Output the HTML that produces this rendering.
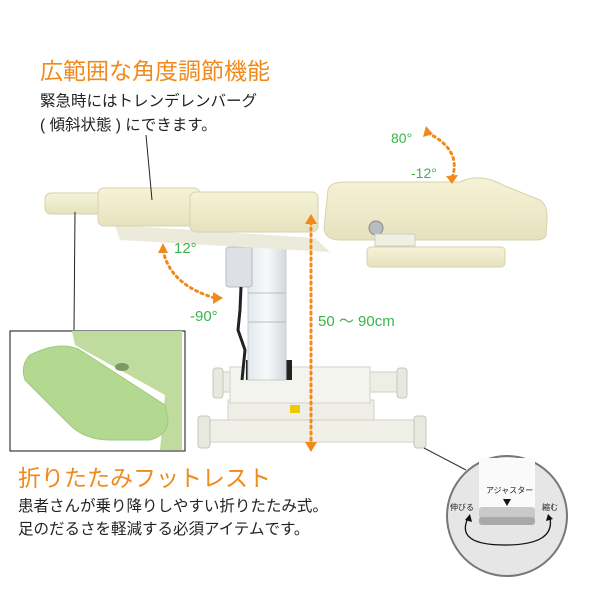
<!DOCTYPE html>
<html><head><meta charset="utf-8"><style>
body{margin:0;width:600px;height:600px;background:#fff;overflow:hidden;position:relative;font-family:"Liberation Sans","Noto Sans CJK JP",sans-serif}
.t{position:absolute;white-space:nowrap}
</style></head><body>
<svg width="600" height="600" style="position:absolute;left:0;top:0" xmlns="http://www.w3.org/2000/svg">
<defs>
<linearGradient id="cr" x1="0" y1="0" x2="0" y2="1"><stop offset="0" stop-color="#f6f3d6"/><stop offset="1" stop-color="#e6e2bf"/></linearGradient>
<linearGradient id="col" x1="0" y1="0" x2="1" y2="0"><stop offset="0" stop-color="#e4e8ea"/><stop offset="0.5" stop-color="#f8f9fa"/><stop offset="1" stop-color="#d5d9dc"/></linearGradient>
</defs>
<!-- base -->
<rect x="215" y="372" width="190" height="20" fill="#eeeee6" stroke="#cfcfc4"/>
<rect x="213" y="368" width="10" height="30" rx="3" fill="#e8e8e0" stroke="#c6c6bc"/>
<rect x="397" y="368" width="10" height="30" rx="3" fill="#e8e8e0" stroke="#c6c6bc"/>
<rect x="228" y="400" width="146" height="22" fill="#eeeee6" stroke="#d3d3c9"/>
<rect x="230" y="367" width="140" height="36" fill="#f4f4ee" stroke="#d3d3c9"/>
<rect x="200" y="420" width="224" height="22" fill="#f0f0e9" stroke="#cfcfc4"/>
<rect x="198" y="416" width="12" height="32" rx="3" fill="#e8e8e0" stroke="#c6c6bc"/>
<rect x="414" y="416" width="12" height="32" rx="3" fill="#e8e8e0" stroke="#c6c6bc"/>
<rect x="290" y="405" width="10" height="8" fill="#f0c800"/>
<!-- column -->
<rect x="246" y="360" width="46" height="20" fill="#222"/>
<rect x="248" y="240" width="38" height="140" fill="url(#col)" stroke="#c8ccd0"/>
<line x1="248" y1="293" x2="286" y2="293" stroke="#bbb"/>
<line x1="248" y1="322" x2="286" y2="322" stroke="#bbb"/>
<rect x="226" y="247" width="26" height="40" rx="3" fill="#dde1e6" stroke="#b8bcc0"/>
<path d="M241 287 L240 310 L238 330 L245 350 L242 380" stroke="#222" stroke-width="3" fill="none"/>
<!-- frame under -->
<path d="M115 225 L315 238 L330 252 L120 240 Z" fill="#eceadb"/>
<!-- cushions -->
<rect x="45" y="193" width="60" height="21" rx="6" fill="url(#cr)" stroke="#d6d2ae"/>
<rect x="98" y="188" width="102" height="38" rx="6" fill="url(#cr)" stroke="#d6d2ae"/>
<rect x="190" y="192" width="128" height="40" rx="6" fill="url(#cr)" stroke="#d6d2ae"/>
<path d="M328 190 Q330 182 345 182 L460 182 Q480 172 505 186 L540 200 Q548 205 547 220 L546 235 Q545 240 535 240 L340 240 Q325 240 324 228 Z" fill="url(#cr)" stroke="#d6d2ae"/>
<circle cx="376" cy="228" r="7" fill="#b8bcc0" stroke="#888"/>
<rect x="375" y="234" width="40" height="12" fill="#f1efdf" stroke="#ccc"/>
<rect x="367" y="247" width="138" height="20" rx="4" fill="url(#cr)" stroke="#d6d2ae"/>
<!-- callout lines -->
<line x1="146" y1="135" x2="152" y2="200" stroke="#222"/>
<line x1="75" y1="212" x2="74" y2="330" stroke="#222"/>
<line x1="424" y1="448" x2="466" y2="470" stroke="#333"/>
<!-- inset -->
<rect x="10" y="331" width="175" height="120" fill="#fff" stroke="#111" stroke-width="1"/>
<path d="M72 331 L182 331 L182 450 L160 450 L165 395 L75 345 Z" fill="#bfdc9e"/>
<path d="M30 355 Q20 365 25 380 L70 425 Q85 440 110 440 L150 440 Q168 435 168 420 L165 405 L80 350 Q60 340 30 355 Z" fill="#b3d88f" stroke="#a3c882"/>
<ellipse cx="122" cy="367" rx="7" ry="4" fill="#7c9a62"/>
<!-- dotted orange -->
<g stroke="#f08a1c" stroke-width="3" stroke-dasharray="2 4" fill="none" stroke-linecap="round">
<line x1="311" y1="222" x2="311" y2="445"/>
<path d="M163 250 Q170 285 215 298"/>
<path d="M428 133 Q462 150 452 178"/>
</g>
<g fill="#f08a1c">
<path d="M305 224 L311 214 L317 224 Z"/>
<path d="M305 442 L311 452 L317 442 Z"/>
<path d="M158 253 L163 243 L168 253 Z"/>
<path d="M213 292 L223 298 L213 304 Z"/>
<path d="M423 137 L426 126 L433 134 Z"/>
<path d="M446 176 L452 184 L458 175 Z"/>
</g>
<!-- adjuster circle -->
<circle cx="507" cy="516" r="60" fill="#e6e6e6" stroke="#777" stroke-width="2"/>
<rect x="479" y="458" width="56" height="54" fill="#fafafa"/>
<rect x="479" y="507" width="56" height="12" rx="3" fill="#c9c9c9"/>
<rect x="479" y="517" width="56" height="8" rx="3" fill="#a9a9a9"/>
<path d="M503 499 L511 499 L507 506 Z" fill="#111"/>
<path d="M468 518 Q455 545 505 545 Q555 545 550 518" stroke="#111" stroke-width="1.3" fill="none"/>
<path d="M465 520 L470 514 L472 522 Z M548 514 L553 519 L546 521 Z" fill="#111"/>
</svg>
<div class="t" style="left:40px;top:52px;font-size:23px;color:#f08a1c">広範囲な角度調節機能</div>
<div class="t" style="left:40px;top:90px;font-size:15.5px;color:#222;line-height:24px">緊急時にはトレンデレンバーグ<br>( 傾斜状態 ) にできます。</div>
<div class="t" style="left:391px;top:130px;font-size:14px;color:#3bb34a">80°</div>
<div class="t" style="left:411px;top:165px;font-size:14px;color:#3bb34a">-12°</div>
<div class="t" style="left:174px;top:240px;font-size:15px;color:#3bb34a">12°</div>
<div class="t" style="left:190px;top:308px;font-size:15px;color:#3bb34a">-90°</div>
<div class="t" style="left:318px;top:310px;font-size:15px;color:#3bb34a">50 ～ 90cm</div>
<div class="t" style="left:18px;top:459px;font-size:23px;color:#f08a1c">折りたたみフットレスト</div>
<div class="t" style="left:18px;top:495px;font-size:15.5px;color:#222;line-height:23px">患者さんが乗り降りしやすい折りたたみ式。<br>足のだるさを軽減する必須アイテムです。</div>
<div class="t" style="left:486px;top:485px;font-size:8px;color:#222">アジャスター</div>
<div class="t" style="left:450px;top:502px;font-size:8px;color:#222">伸びる</div>
<div class="t" style="left:542px;top:502px;font-size:8px;color:#222">縮む</div>
</body></html>
